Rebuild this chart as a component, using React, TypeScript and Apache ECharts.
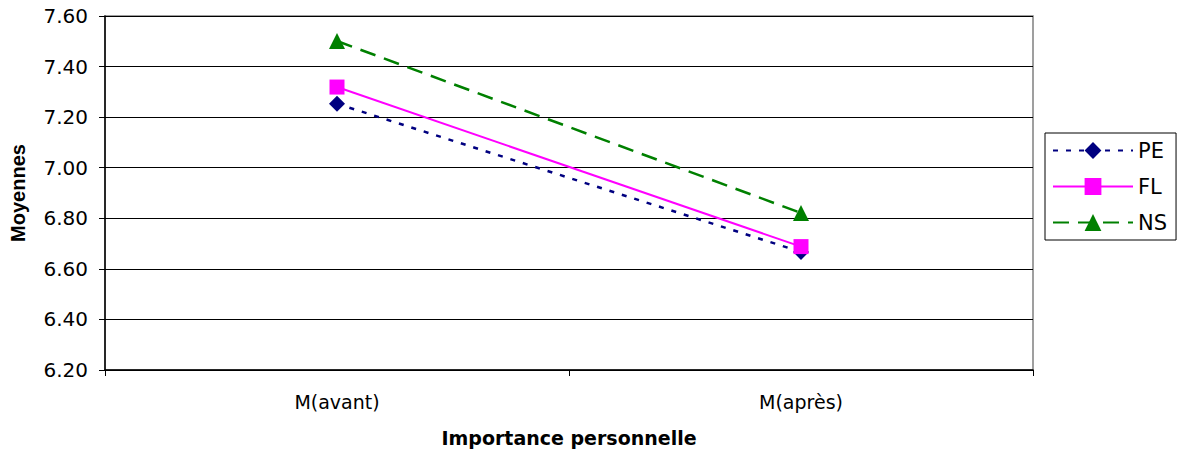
import React, { useEffect, useRef } from "react";
import * as echarts from "echarts";

const categories = ["M(avant)", "M(après)"];
const peValues = [7.253, 6.667];
const flValues = [7.319, 6.688];
const nsValues = [7.501, 6.821];

export default function App() {
  const ref = useRef<HTMLDivElement>(null);
  useEffect(() => {
    const chart = echarts.init(ref.current!, null, { renderer: "svg" });
    const font = "DejaVu Sans, sans-serif";
    chart.setOption({
      animation: false,
      grid: {
        left: 105,
        right: 160,
        top: 16,
        bottom: 89,
        outerBoundsMode: "none",
        containLabel: false,
        show: true,
        borderColor: "#808080",
        borderWidth: 1.5,
        backgroundColor: "#fff",
      },
      legend: {
        orient: "vertical",
        left: 1045,
        top: 133,
        itemWidth: 80,
        itemHeight: 21,
        itemGap: 15,
        padding: [7, 9, 7, 7],
        borderColor: "#000",
        borderWidth: 1,
        textStyle: { fontFamily: font, fontSize: 21, color: "#000", lineHeight: 21 },
        data: ["PE", "FL", "NS"],
      },
      xAxis: {
        type: "category",
        data: categories,
        boundaryGap: true,
        name: "Importance personnelle",
        nameLocation: "middle",
        nameGap: 58,
        nameTextStyle: { fontFamily: font, fontSize: 19, fontWeight: "bold", color: "#000" },
        axisLine: { lineStyle: { color: "#000", width: 1.5 } },
        axisTick: { show: true, length: 6, lineStyle: { color: "#000" } },
        axisLabel: { fontFamily: font, fontSize: 19, color: "#000", margin: 22 },
      },
      yAxis: {
        type: "value",
        min: 6.2,
        max: 7.6,
        interval: 0.2,
        name: "Moyennes",
        nameLocation: "middle",
        nameGap: 77,
        nameTextStyle: {
          fontFamily: "Liberation Sans, Arial, sans-serif",
          fontSize: 20,
          fontWeight: "bold",
          color: "#000",
        },
        axisLine: { show: true, lineStyle: { color: "#000", width: 1.5 } },
        axisTick: { show: true, length: 6, lineStyle: { color: "#000" } },
        axisLabel: {
          fontFamily: font,
          fontSize: 20,
          color: "#000",
          margin: 17,
          formatter: (v: number) => v.toFixed(2),
        },
        splitLine: { lineStyle: { color: "#000", width: 1 } },
      },
      series: [
        {
          name: "PE",
          type: "line",
          data: peValues,
          symbol: "diamond",
          symbolSize: 16,
          itemStyle: { color: "#000080" },
          lineStyle: { color: "#000080", width: 2.5, type: [5, 8] },
          z: 3,
        },
        {
          name: "FL",
          type: "line",
          data: flValues,
          symbol: "rect",
          symbolSize: 15,
          itemStyle: { color: "#FF00FF" },
          lineStyle: { color: "#FF00FF", width: 2 },
          z: 4,
        },
        {
          name: "NS",
          type: "line",
          data: nsValues,
          symbol: "triangle",
          symbolSize: 16,
          itemStyle: { color: "#008000" },
          lineStyle: { color: "#008000", width: 2.5, type: [16, 9] },
          z: 5,
        },
      ],
    });
    return () => chart.dispose();
  }, []);
  return <div ref={ref} style={{ width: 1193, height: 459, margin: -8 }} />;
}
